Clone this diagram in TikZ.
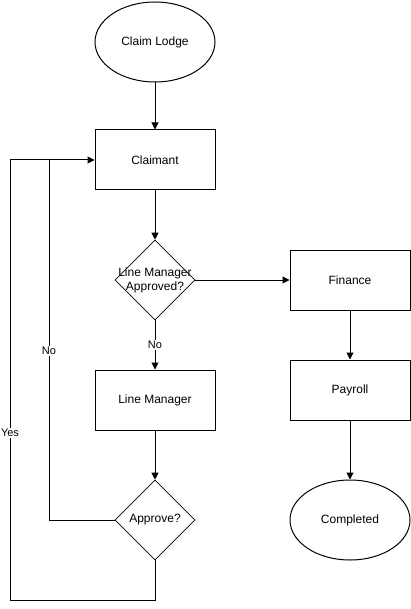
\documentclass[tikz,border=0pt]{standalone}
\usepackage{fontspec}
\setmainfont{Liberation Sans}
\usetikzlibrary{shapes.geometric,arrows.meta}
\begin{document}
\begin{tikzpicture}[x=1pt,y=-1pt,
  every node/.style={font=\fontsize{12}{14}\selectfont, inner sep=0pt},
  procbox/.style={draw, line width=1pt, minimum width=120pt, minimum height=60pt},
  terminal/.style={draw, ellipse, line width=1pt, minimum width=120pt, minimum height=80pt},
  decision/.style={draw, diamond, line width=0.6pt, minimum width=80pt, minimum height=80pt, aspect=1},
  caption/.style={align=center},
  flow/.style={line width=1pt, -{Triangle[length=7pt,width=7pt]}},
  link/.style={line width=1pt},
  tag/.style={fill=white, font=\fontsize{11}{13}\selectfont, inner sep=1pt}]
\useasboundingbox (0,0) rectangle (410,609);

\node[terminal] (lodge) at (155,42) {Claim Lodge};
\node[procbox] (claimant) at (155,160) {Claimant};
\node[decision] (lmq) at (155,280) {};
\node[caption] (lmqtext) at (lmq.center) {Line Manager\\Approved?};
\node[procbox] (finance) at (350,280) {Finance};
\node[procbox] (payroll) at (350,390) {Payroll};
\node[terminal] (done) at (350,520) {Completed};
\node[procbox] (lm) at (155,400) {Line Manager};
\node[decision] (appr) at (155,520) {};
\node[caption] (apprtext) at (appr.center) {Approve?};

\coordinate (nocorner) at (49,520);
\coordinate (notop) at (49,160);
\coordinate (yesbot) at (155,600);
\coordinate (yesleft) at (10,600);
\coordinate (yestop) at (10,160);

\draw[flow] (lodge) -- (claimant);
\draw[flow] (claimant) -- (lmq);
\draw[flow] (lmq) -- (finance);
\draw[flow] (finance) -- (payroll);
\draw[flow] (payroll) -- (done);
\draw[flow] (lmq) -- node[tag, pos=0.5] {No} (lm);
\draw[flow] (lm) -- (appr);
\draw[flow] (appr.west) -- (nocorner) -- node[tag, pos=0.47] {No} (notop) -- (claimant.west);
\draw[link] (appr.south) -- (yesbot) -- (yesleft) -- node[tag, pos=0.38] {Yes} (yestop) -- (notop);
\end{tikzpicture}
\end{document}
